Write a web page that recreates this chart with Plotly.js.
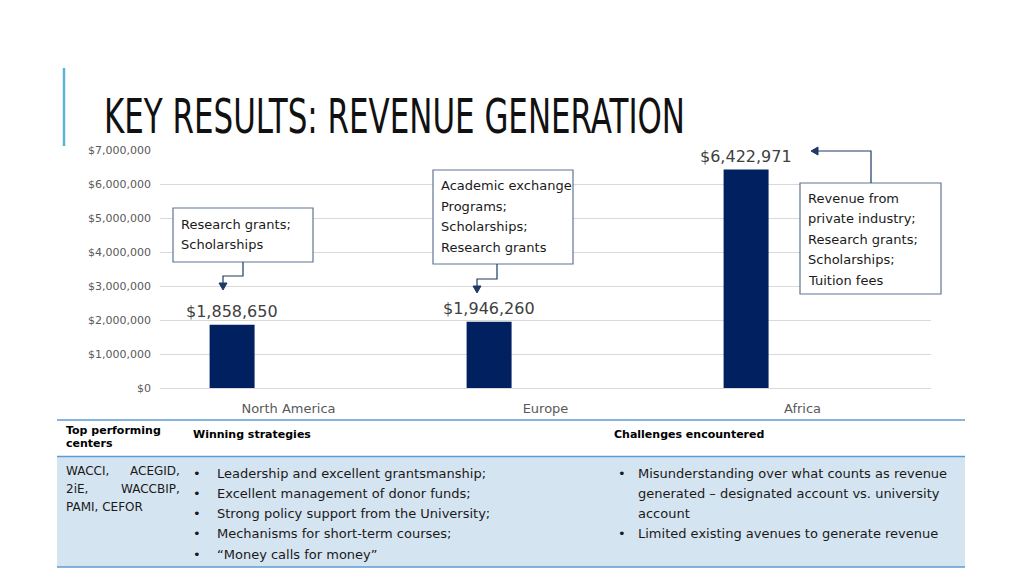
<!DOCTYPE html>
<html><head><meta charset="utf-8">
<script src="https://cdn.plot.ly/plotly-3.0.1.min.js"></script>
<style>html,body{margin:0;padding:0;background:#fff;}#chart{width:1024px;height:576px;}</style>
</head><body><div id="chart"></div>
<script>
const categories = ['North America', 'Europe', 'Africa'];
const revenue = [1858650, 1946260, 6422971];
const valueLabels = ['$1,858,650', '$1,946,260', '$6,422,971'];
const yTickVals = [0, 1000000, 2000000, 3000000, 4000000, 5000000, 6000000, 7000000];
const yTickText = ['$0', '$1,000,000', '$2,000,000', '$3,000,000', '$4,000,000', '$5,000,000', '$6,000,000', '$7,000,000'];
const titleText = 'KEY RESULTS: REVENUE GENERATION';
const calloutNA = ['Research grants;', 'Scholarships'];
const calloutEU = ['Academic exchange', 'Programs;', 'Scholarships;', 'Research grants'];
const calloutAF = ['Revenue from', 'private industry;', 'Research grants;', 'Scholarships;', 'Tuition fees'];
const headerCol1 = ['Top performing', 'centers'];
const headerCol2 = 'Winning strategies';
const headerCol3 = 'Challenges encountered';
const centersLeft = ['WACCI,', '2iE,', 'PAMI, CEFOR'];
const centersRight = ['ACEGID,', 'WACCBIP,', ''];
const strategies = ['Leadership and excellent grantsmanship;', 'Excellent management of donor funds;', 'Strong policy support from the University;', 'Mechanisms for short-term courses;', '\u201CMoney calls for money\u201D'];
const challenges = ['Misunderstanding over what counts as revenue', 'generated \u2013 designated account vs. university', 'account', 'Limited existing avenues to generate revenue'];
const challengeBullets = [true, false, false, true];

const FONT = 'DejaVu Sans, Open Sans, sans-serif';
const L = 160, R = 931, T = 150, B = 388;
const X = px => (px - L) / (R - L);
const Y = py => (B - py) / (B - T);
const band = (R - L) / categories.length;
const barOffset = -0.307, barWidth = 0.175;

const navy = '#002060';
const arrowCol = '#1f3864';
const boxCol = '#5f7693';
const tblLine = '#5b9bd5';
const TITLE_W = 581;

const shapes = [];
const ann = [];

// accent line
shapes.push({type:'line', xref:'paper', yref:'paper', x0:X(64), x1:X(64), y0:Y(68), y1:Y(146), line:{color:'#5ab4d6', width:2.5}});
// title
ann.push({xref:'paper', yref:'paper', x:X(102), y:Y(116), xanchor:'left', yanchor:'middle', align:'left', showarrow:false,
  text:titleText, name:'title', font:{family:'DejaVu Sans, sans-serif', size:48, color:'#111111'}});

// value labels from data
categories.forEach((c, i) => {
  ann.push({xref:'x', yref:'y', x:c, y:revenue[i], xshift:(barOffset + barWidth/2) * band, yshift:2,
    xanchor:'center', yanchor:'bottom', showarrow:false, text:valueLabels[i],
    font:{family:FONT, size:16, color:'#404040'}});
});

function box(x0, y0, x1, y1, lines, tx, ty0, dy) {
  shapes.push({type:'rect', xref:'paper', yref:'paper', x0:X(x0), x1:X(x1), y0:Y(y0), y1:Y(y1),
    line:{color:boxCol, width:1.2}, fillcolor:'#ffffff', layer:'above'});
  lines.forEach((t, i) => ann.push({xref:'paper', yref:'paper', x:X(tx), y:Y(ty0 + i*dy), xanchor:'left', yanchor:'middle',
    showarrow:false, text:t, font:{family:FONT, size:13, color:'#1a1a1a'}}));
}
function path(pts) {
  let d = 'M ' + pts.map(p => X(p[0]) + ' ' + Y(p[1])).join(' L ');
  shapes.push({type:'path', xref:'paper', yref:'paper', path:d, line:{color:arrowCol, width:1.2}, layer:'above'});
}
function arrowHead(tip, dir) {
  const s = 4, l = 7;
  let pts;
  if (dir === 'down') pts = [[tip[0], tip[1]], [tip[0]-s, tip[1]-l], [tip[0]+s, tip[1]-l]];
  else pts = [[tip[0], tip[1]], [tip[0]+l, tip[1]-s], [tip[0]+l, tip[1]+s]];
  shapes.push({type:'path', xref:'paper', yref:'paper', path:'M ' + pts.map(p => X(p[0]) + ' ' + Y(p[1])).join(' L ') + ' Z',
    line:{color:arrowCol, width:1}, fillcolor:arrowCol, layer:'above'});
}

box(173, 208, 313, 262, calloutNA, 179, 224, 20.5);
path([[243, 262], [243, 276], [223, 276], [223, 284]]);
arrowHead([223, 290], 'down');

box(433, 170, 573, 264, calloutEU, 439, 185.5, 20.5);
path([[497, 264], [497, 279], [477, 279], [477, 287]]);
arrowHead([477, 293], 'down');

box(800, 183, 941, 294, calloutAF, 806, 198, 20.5);
path([[871, 183], [871, 151], [817, 151]]);
arrowHead([811, 151], 'left');

// table
shapes.push({type:'rect', xref:'paper', yref:'paper', x0:X(57), x1:X(965), y0:Y(457), y1:Y(567), line:{width:0}, fillcolor:'#d5e4f1', layer:'above'});
[420, 456.5, 567].forEach(py => shapes.push({type:'line', xref:'paper', yref:'paper', x0:X(57), x1:X(965), y0:Y(py), y1:Y(py), line:{color:tblLine, width:1.5}, layer:'above'}));

const tfont = {family:FONT, size:11, color:'#000000'};
headerCol1.forEach((t, i) => ann.push({xref:'paper', yref:'paper', x:X(64), y:Y(430 + i*13), xanchor:'left', yanchor:'middle', showarrow:false, text:'<b>' + t + '</b>', font:tfont}));
ann.push({xref:'paper', yref:'paper', x:X(191), y:Y(434), xanchor:'left', yanchor:'middle', showarrow:false, text:'<b>' + headerCol2 + '</b>', font:tfont});
ann.push({xref:'paper', yref:'paper', x:X(612), y:Y(434), xanchor:'left', yanchor:'middle', showarrow:false, text:'<b>' + headerCol3 + '</b>', font:tfont});

const cfont = {family:FONT, size:12, color:'#1a1a1a'};
centersLeft.forEach((t, i) => ann.push({xref:'paper', yref:'paper', x:X(64), y:Y(471 + i*18), xanchor:'left', yanchor:'middle', showarrow:false, text:t, font:cfont}));
centersRight.forEach((t, i) => { if (t) ann.push({xref:'paper', yref:'paper', x:X(182), y:Y(471 + i*18), xanchor:'right', yanchor:'middle', showarrow:false, text:t, font:cfont}); });

const bfont = {family:FONT, size:13, color:'#1a1a1a'};
strategies.forEach((t, i) => {
  ann.push({xref:'paper', yref:'paper', x:X(191), y:Y(473 + i*20.3), xanchor:'left', yanchor:'middle', showarrow:false, text:'\u2022', font:bfont});
  ann.push({xref:'paper', yref:'paper', x:X(215), y:Y(473 + i*20.3), xanchor:'left', yanchor:'middle', showarrow:false, text:t, font:bfont});
});
challenges.forEach((t, i) => {
  if (challengeBullets[i]) ann.push({xref:'paper', yref:'paper', x:X(616), y:Y(473 + i*20.3), xanchor:'left', yanchor:'middle', showarrow:false, text:'\u2022', font:bfont});
  ann.push({xref:'paper', yref:'paper', x:X(636), y:Y(473 + i*20.3), xanchor:'left', yanchor:'middle', showarrow:false, text:t, font:bfont});
});

const data = [{
  type:'bar', x:categories, y:revenue, offset:barOffset, width:barWidth,
  marker:{color:navy}, hoverinfo:'skip'
}];

const layout = {
  width:1024, height:576, paper_bgcolor:'#ffffff', plot_bgcolor:'#ffffff',
  margin:{l:L, r:1024 - R, t:T, b:576 - B, pad:0},
  showlegend:false,
  xaxis:{type:'category', range:[-0.5, 2.5], showgrid:false, zeroline:false, showline:true, linecolor:'#d9d9d9', linewidth:1,
    ticks:'', ticklabelstandoff:8, tickfont:{family:FONT, size:13, color:'#595959'}, fixedrange:true},
  yaxis:{range:[0, 7000000], tickvals:yTickVals, ticktext:yTickText, showgrid:true, gridcolor:'#d9d9d9', gridwidth:1,
    zeroline:false, showline:false, ticks:'', ticklabelstandoff:8, tickfont:{family:FONT, size:11, color:'#595959'}, fixedrange:true},
  shapes:shapes, annotations:ann
};
Plotly.newPlot('chart', data, layout, {displayModeBar:false, staticPlot:true}).then(gd => {
  // condense the title glyphs horizontally to mimic the condensed slide font
  document.querySelectorAll('.annotation-text').forEach(el => {
    if (el.textContent === titleText) {
      el.setAttribute('textLength', TITLE_W);
      el.setAttribute('lengthAdjust', 'spacingAndGlyphs');
    }
  });
});
</script>
</body></html>
